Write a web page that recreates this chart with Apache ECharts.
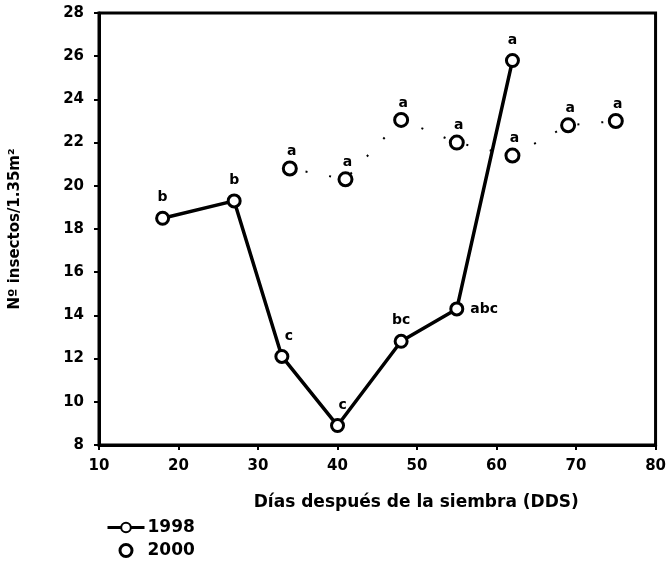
<!DOCTYPE html>
<html>
<head>
<meta charset="utf-8">
<script src="https://cdn.jsdelivr.net/npm/echarts@6/dist/echarts.min.js"></script>
<style>
html, body { margin: 0; padding: 0; background: #fff; }
#chart { width: 669px; height: 564px; }
</style>
</head>
<body>
<div id="chart"></div>
<script>
// datos
var dias1998 = [18, 27, 33, 40, 48, 55, 62];
var insectos1998 = [18.5, 19.3, 12.1, 8.9, 12.8, 14.3, 25.8];
var letras1998 = ['b', 'b', 'c', 'c', 'bc', 'abc', 'a'];

var dias2000 = [34, 41, 48, 55, 62, 69, 75];
var insectos2000 = [20.8, 20.3, 23.05, 22.0, 21.4, 22.8, 23.0];
var letras2000 = ['a', 'a', 'a', 'a', 'a', 'a', 'a'];

var xTicks = [10, 20, 30, 40, 50, 60, 70, 80];
var yTicks = [8, 10, 12, 14, 16, 18, 20, 22, 24, 26, 28];

var fuente = 'DejaVu Sans';

function pares(xs, ys, letras, extra) {
    var out = [];
    for (var i = 0; i < xs.length; i++) {
        var item = { value: [xs[i], ys[i]], letra: letras ? letras[i] : '' };
        if (extra && extra[i]) item.label = extra[i];
        out.push(item);
    }
    return out;
}

// ajustes de etiquetas puntuales
var ajuste1998 = {
    2: { offset: [7, 0] },
    3: { offset: [5, 0] },
    5: { position: 'right', distance: 6, offset: [0, 0] }
};

var dom = document.getElementById('chart');
var myChart = echarts.init(dom, null, { renderer: 'canvas' });

var option = {
    animation: false,
    backgroundColor: '#fff',
    grid: {
        left: 95.5,
        right: 10,
        top: 13,
        bottom: 119,
        show: true,
        borderColor: '#000',
        borderWidth: 3,
        containLabel: false
    },
    legend: {
        data: [
            { name: '1998' },
            { name: '2000', itemStyle: { borderWidth: 3 } }
        ],
        orient: 'vertical',
        left: 106,
        top: 519,
        height: 46,
        padding: 0,
        itemWidth: 37,
        itemHeight: 12,
        itemGap: 6,
        lineStyle: { width: 3 },
        textStyle: { fontFamily: fuente, fontWeight: 'bold', fontSize: 17, lineHeight: 17, color: '#000', padding: [0, 0, 0, -2] }
    },
    xAxis: {
        type: 'value',
        min: 10,
        max: 80,
        interval: 10,
        name: 'Días después de la siembra (DDS)',
        nameLocation: 'middle',
        nameGap: 49,
        nameTextStyle: { fontFamily: fuente, fontWeight: 'bold', fontSize: 17, color: '#000', padding: [0, 0, 0, 78] },
        axisLine: { show: true, lineStyle: { color: '#000', width: 3 } },
        axisTick: { show: true, length: 5, lineStyle: { color: '#000', width: 2 } },
        axisLabel: {
            margin: 14,
            fontFamily: fuente, fontWeight: 'bold', fontSize: 15, color: '#000',
            formatter: function (v) { return xTicks.indexOf(v) >= 0 ? String(v) : ''; }
        },
        splitLine: { show: false }
    },
    yAxis: {
        type: 'value',
        min: 8,
        max: 28,
        interval: 2,
        name: 'Nº insectos/1.35m²',
        nameLocation: 'middle',
        nameGap: 76,
        nameRotate: 90,
        nameTextStyle: { fontFamily: fuente, fontWeight: 'bold', fontSize: 15, color: '#000' },
        axisLine: { show: true, lineStyle: { color: '#000', width: 3 } },
        axisTick: { show: true, length: 5, lineStyle: { color: '#000', width: 2 } },
        axisLabel: {
            margin: 15,
            fontFamily: fuente, fontWeight: 'bold', fontSize: 15, color: '#000',
            formatter: function (v) { return yTicks.indexOf(v) >= 0 ? String(v) : ''; }
        },
        splitLine: { show: false }
    },
    series: [
        {
            name: '2000 puntos',
            type: 'line',
            data: pares(dias2000, insectos2000),
            symbol: 'none',
            silent: true,
            lineStyle: { color: '#000', width: 2, type: [2, 22], dashOffset: 8 },
            z: 1
        },
        {
            name: '1998',
            type: 'line',
            data: pares(dias1998, insectos1998, letras1998, ajuste1998),
            symbol: 'circle',
            symbolSize: 12,
            showAllSymbol: true,
            itemStyle: { color: '#fff', borderColor: '#000', borderWidth: 3 },
            lineStyle: { color: '#000', width: 3.5 },
            label: {
                show: true,
                position: 'top',
                distance: 6,
                fontFamily: fuente, fontWeight: 'bold', fontSize: 14, color: '#000',
                formatter: function (p) { return p.data.letra; }
            },
            z: 3
        },
        {
            name: '2000',
            type: 'scatter',
            data: pares(dias2000, insectos2000, letras2000),
            symbol: 'circle',
            symbolSize: 13,
            itemStyle: { color: '#fff', borderColor: '#000', borderWidth: 3, opacity: 1 },
            label: {
                show: true,
                position: 'top',
                distance: 2,
                offset: [2, 0],
                fontFamily: fuente, fontWeight: 'bold', fontSize: 14, color: '#000',
                formatter: function (p) { return p.data.letra; }
            },
            z: 2
        }
    ]
};

if (option && typeof option === "object") {
    myChart.setOption(option, true);
}
window.onresize = function () {
    myChart.resize();
};
</script>
</body>
</html>
